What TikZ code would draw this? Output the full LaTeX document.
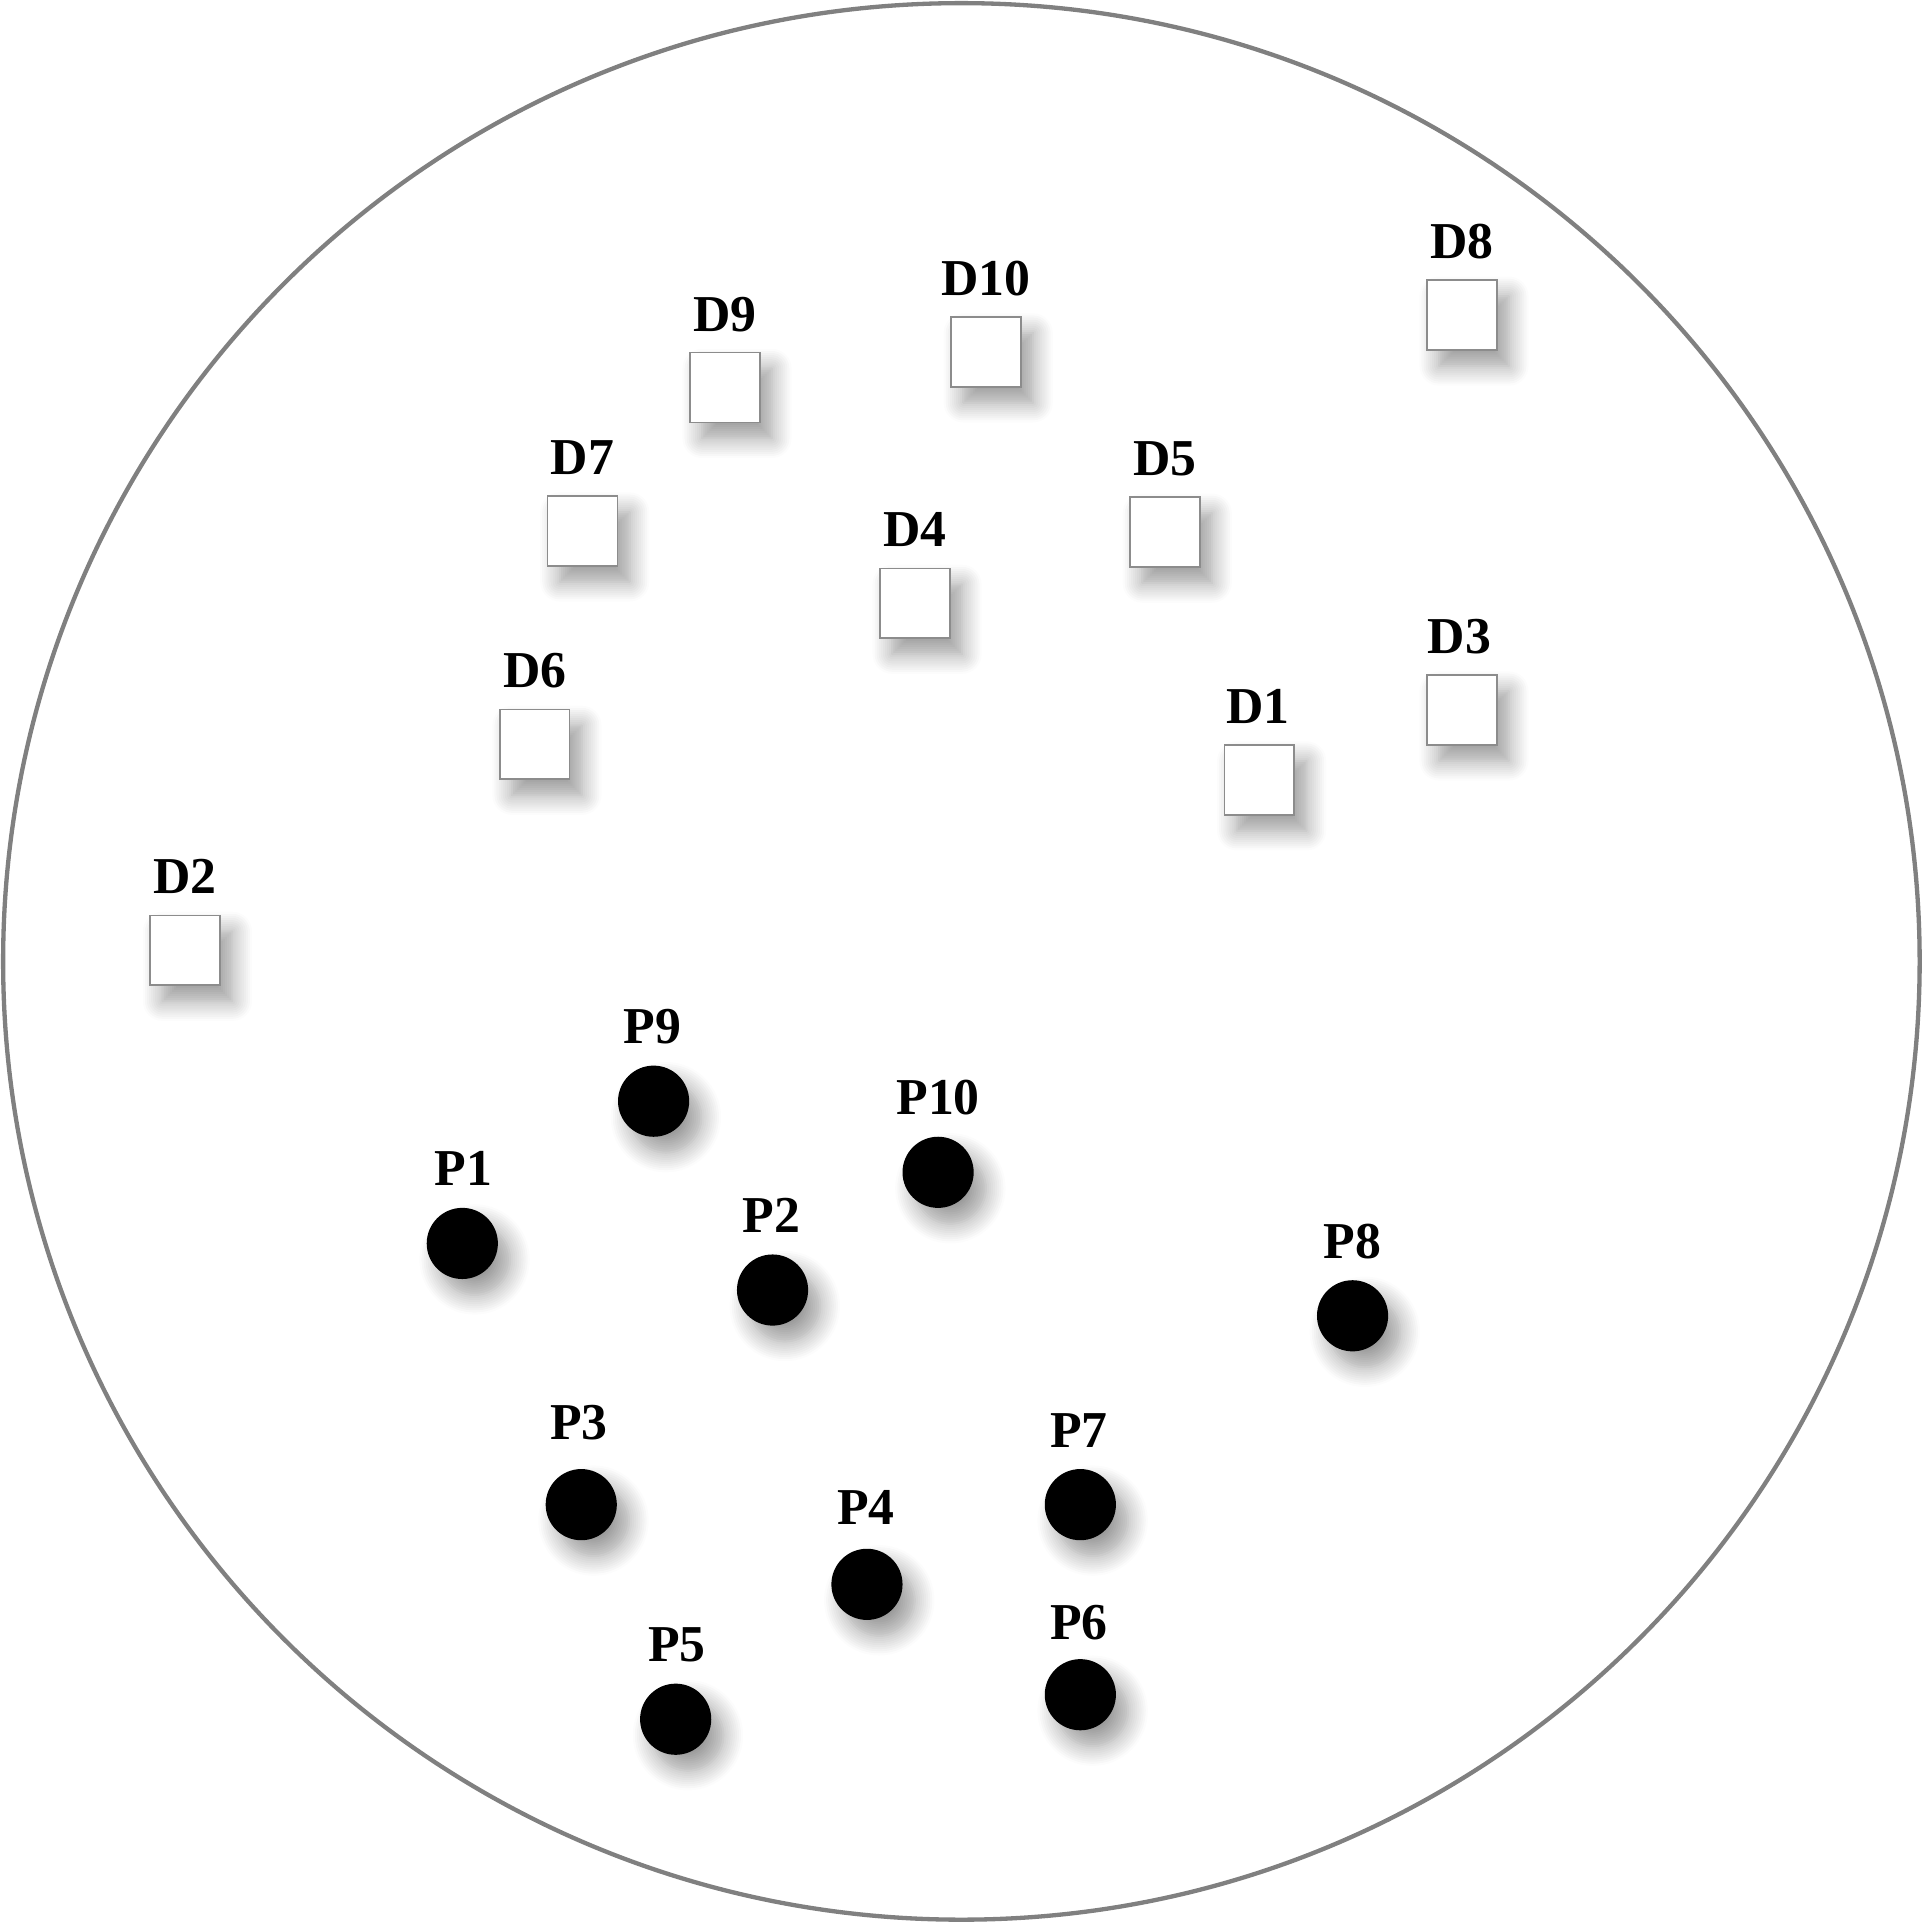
\documentclass[tikz,border=0pt]{standalone}
\usepackage{fontspec}
\setmainfont{Liberation Serif}
\usetikzlibrary{shadows.blur}

\tikzset{
  dish/.style={draw=black!50, line width=1pt},
  donor/.style={draw=black!45, line width=0.4pt, fill=white, minimum size=0.57cm, inner sep=0pt,
    blur shadow={shadow xshift=0.1cm, shadow yshift=-0.13cm, shadow blur radius=0.16cm, shadow opacity=40, shadow blur steps=10}},
  patient/.style={circle, fill=black, minimum size=0.58cm, inner sep=0pt,
    blur shadow={shadow xshift=0.1cm, shadow yshift=-0.13cm, shadow blur radius=0.16cm, shadow opacity=40, shadow blur steps=10}},
  tag/.style={font=\fontsize{12}{14}\selectfont\bfseries, inner sep=0pt, anchor=base}
}

\begin{document}
\begin{tikzpicture}[x=0.01cm, y=-0.01cm]
\useasboundingbox (0,0) rectangle (1568,1569);
\draw[dish] (784,784) circle (7.81cm);

\node[donor] (D8) at (1192,257) {};
\node[tag] at (1192,211) {D8};
\node[donor] (D10) at (804,287) {};
\node[tag] at (804,241) {D10};
\node[donor] (D9) at (591,316) {};
\node[tag] at (591,270) {D9};
\node[donor] (D7) at (475,433) {};
\node[tag] at (475,387) {D7};
\node[donor] (D5) at (950,434) {};
\node[tag] at (950,388) {D5};
\node[donor] (D4) at (746,492) {};
\node[tag] at (746,446) {D4};
\node[donor] (D3) at (1192,579) {};
\node[tag] at (1190,533) {D3};
\node[donor] (D1) at (1027,636) {};
\node[tag] at (1026,590) {D1};
\node[donor] (D6) at (436,607) {};
\node[tag] at (436,561) {D6};
\node[donor] (D2) at (151,775) {};
\node[tag] at (151,729) {D2};

\node[patient] (P9) at (533,898) {};
\node[tag] at (532,851) {P9};
\node[patient] (P10) at (765,956) {};
\node[tag] at (765,909) {P10};
\node[patient] (P1) at (377,1014) {};
\node[tag] at (378,967) {P1};
\node[patient] (P2) at (630,1052) {};
\node[tag] at (629,1005) {P2};
\node[patient] (P8) at (1103,1073) {};
\node[tag] at (1103,1026) {P8};
\node[patient] (P3) at (474,1227) {};
\node[tag] at (472,1174) {P3};
\node[patient] (P7) at (881,1227) {};
\node[tag] at (880,1180) {P7};
\node[patient] (P4) at (707,1292) {};
\node[tag] at (706,1243) {P4};
\node[patient] (P5) at (551,1402) {};
\node[tag] at (552,1355) {P5};
\node[patient] (P6) at (881,1382) {};
\node[tag] at (880,1337) {P6};
\end{tikzpicture}
\end{document}
